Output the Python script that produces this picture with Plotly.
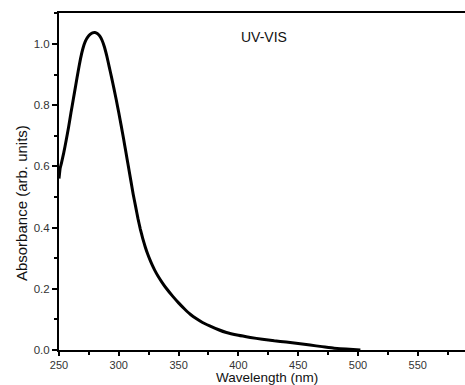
import plotly.graph_objects as go

# Data
wavelength = [250, 251, 252, 254, 256, 258, 260, 262, 264, 266, 268, 270, 272, 274, 276, 278,
              280, 282, 284, 286, 288, 290, 292, 294, 296, 298, 300, 302, 304, 306, 308, 310,
              312, 314, 316, 318, 320, 322, 324, 326, 328, 330, 333, 336, 340, 345, 350, 355,
              360, 365, 370, 376, 383, 390, 400, 410, 420, 430, 440, 450, 460, 470, 480, 490,
              502]
absorbance = [0.56, 0.595, 0.61, 0.645, 0.685, 0.728, 0.775, 0.82, 0.865, 0.91, 0.952, 0.985,
              1.008, 1.022, 1.031, 1.036, 1.037, 1.034, 1.026, 1.012, 0.99, 0.96, 0.925, 0.89,
              0.853, 0.815, 0.775, 0.733, 0.69, 0.645, 0.6, 0.555, 0.51, 0.47, 0.43, 0.395,
              0.365, 0.338, 0.315, 0.295, 0.277, 0.261, 0.24, 0.222, 0.2, 0.176, 0.154,
              0.134, 0.116, 0.102, 0.09, 0.079, 0.067, 0.057, 0.048, 0.041, 0.035, 0.030, 0.026,
              0.021, 0.016, 0.011, 0.006, 0.003, 0.0]

x_ticks = [250, 300, 350, 400, 450, 500, 550]
y_ticks = [0.0, 0.2, 0.4, 0.6, 0.8, 1.0]
label_text = "UV-VIS"
x_title = "Wavelength (nm)"
y_title = "Absorbance (arb. units)"

FONT = "Liberation Sans, Arial, sans-serif"

fig = go.Figure()
fig.add_trace(go.Scatter(x=wavelength, y=absorbance, mode="lines",
                         line=dict(color="black", width=3, shape="spline", smoothing=0.4),
                         showlegend=False, hoverinfo="skip"))

fig.update_layout(
    width=465, height=385,
    margin=dict(l=59, r=0, t=13, b=35),
    paper_bgcolor="white", plot_bgcolor="white",
    font=dict(family=FONT, color="#222", size=11),
    xaxis=dict(range=[250, 589.5], tickvals=x_ticks, ticks="outside", ticklen=4, tickwidth=1.5,
               tickcolor="black", showline=True, linecolor="black", linewidth=2, mirror=True,
               showgrid=False, zeroline=False,
               minor=dict(dtick=25, tick0=250, ticks="outside", ticklen=3, tickwidth=1.5,
                          tickcolor="black", showgrid=False),
               tickfont=dict(size=11, family=FONT, color="#333")),
    yaxis=dict(range=[0, 1.101], tickvals=y_ticks, tickformat=".1f", ticks="outside", ticklen=5,
               tickwidth=1.5, tickcolor="black", showline=True, linecolor="black", linewidth=2,
               showgrid=False, zeroline=False,
               minor=dict(dtick=0.1, tick0=0, ticks="outside", ticklen=3, tickwidth=1.5,
                          tickcolor="black", showgrid=False),
               tickfont=dict(size=11.5, family=FONT, color="#333")),
    annotations=[
        dict(text=label_text, xref="paper", yref="paper", x=0.505, y=0.929,
             xanchor="center", yanchor="middle", showarrow=False,
             font=dict(size=14, family=FONT, color="#111")),
        dict(text=x_title, xref="paper", yref="paper", x=0.5135, y=-0.0816,
             xanchor="center", yanchor="middle", showarrow=False,
             font=dict(size=13.5, family=FONT, color="#111")),
        dict(text=y_title, xref="paper", yref="paper", x=-0.0936, y=0.436,
             xanchor="center", yanchor="middle", showarrow=False, textangle=-90,
             font=dict(size=15, family=FONT, color="#111")),
    ],
)

fig.write_html("out.html")
